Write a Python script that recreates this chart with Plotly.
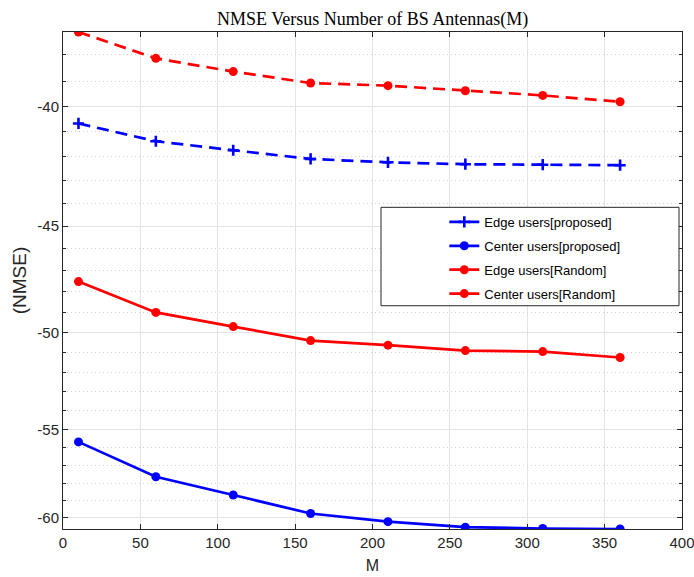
import math
import plotly.graph_objects as go

# ---- data ----
M_VALUES = [10, 60, 110, 160, 210, 260, 310, 360]
EDGE_PROPOSED = [-40.66, -41.38, -41.75, -42.11, -42.25, -42.33, -42.35, -42.37]
CENTER_PROPOSED = [-55.68, -57.63, -58.68, -59.76, -60.24, -60.57, -60.65, -60.68]
EDGE_RANDOM = [-37.15, -38.13, -38.63, -39.07, -39.17, -39.37, -39.55, -39.80]
CENTER_RANDOM = [-47.53, -49.00, -49.69, -50.38, -50.61, -50.88, -50.93, -51.23]
X_TICKS = [0, 50, 100, 150, 200, 250, 300, 350, 400]
Y_TICKS = [-40, -45, -50, -55, -60]

TITLE = "NMSE Versus Number of BS Antennas(M)"
X_LABEL = "M"
Y_LABEL = "(NMSE)"

AX = "#262626"
SANS = "Liberation Sans, Arial, sans-serif"


def mag(vals):
    # axis is logarithmic in |NMSE| with reversed direction
    return [-v for v in vals]


series = [
    ("Edge users[proposed]", EDGE_PROPOSED, "#0000ff", "12px,7px", "cross-thin"),
    ("Center users[proposed]", CENTER_PROPOSED, "#0000ff", "solid", "circle"),
    ("Edge users[Random]", EDGE_RANDOM, "#ff0000", "12px,7px", "circle"),
    ("Center users[Random]", CENTER_RANDOM, "#ff0000", "solid", "circle"),
]

fig = go.Figure()
for i, (name, vals, color, dash, sym) in enumerate(series):
    if sym == "cross-thin":
        marker = dict(symbol="cross-thin", size=8, color=color,
                      line=dict(color=color, width=2.6))
    else:
        marker = dict(symbol="circle", size=9, color=color,
                      line=dict(color=color, width=0))
    fig.add_trace(go.Scatter(
        x=M_VALUES, y=mag(vals), name=name, mode="lines+markers",
        line=dict(color=color, width=2.7, dash=dash),
        marker=marker, legendgroup="g%d" % i,
        customdata=vals, hovertemplate="M=%{x}<br>NMSE=%{customdata}<extra></extra>",
    ))

all_vals = EDGE_PROPOSED + CENTER_PROPOSED + EDGE_RANDOM + CENTER_RANDOM
ymin_mag = min(mag(all_vals))
ymax_mag = max(mag(all_vals))

minor_vals = list(range(math.ceil(ymin_mag), math.floor(ymax_mag) + 1))

fig.update_layout(
    width=694, height=577,
    margin=dict(l=63, r=12, t=32, b=48, autoexpand=False),
    paper_bgcolor="white", plot_bgcolor="white",
    title=dict(text=TITLE, x=0.537, xanchor="center", y=1 - 18.5 / 577,
               yanchor="middle", yref="container",
               font=dict(family="Liberation Serif, Times New Roman, serif",
                         size=18, color="black")),
    font=dict(family=SANS, color=AX),
    showlegend=True,
    legend=dict(x=0.616, xanchor="left", y=0.648, yanchor="top",
                bgcolor="rgba(0,0,0,0)", borderwidth=0,
                font=dict(family=SANS, size=13, color="black"),
                tracegroupgap=4),
    shapes=[dict(type="rect", xref="paper", yref="paper",
                 x0=(381 - 63) / 619, x1=(679 - 63) / 619,
                 y0=(529.5 - 306) / 497.5, y1=(529.5 - 207.5) / 497.5,
                 fillcolor="white", line=dict(color=AX, width=1), layer="above")],
)

fig.update_xaxes(
    range=[X_TICKS[0], X_TICKS[-1]], tickmode="array", tickvals=X_TICKS,
    ticks="inside", ticklen=5, tickcolor=AX, tickwidth=1,
    showline=True, linecolor=AX, linewidth=1, mirror="allticks",
    showgrid=True, gridcolor="#e3e3e3", gridwidth=1, zeroline=False,
    tickfont=dict(size=15, color=AX, family=SANS), automargin=False,
    ticklabeloverflow="allow",
    title=dict(text=X_LABEL, font=dict(size=16, color=AX, family=SANS), standoff=9),
)

fig.update_yaxes(
    type="log", range=[math.log10(ymax_mag), math.log10(ymin_mag)],
    tickmode="array", tickvals=mag(Y_TICKS), ticktext=[str(v) for v in Y_TICKS],
    ticks="inside", ticklen=5, tickcolor=AX, tickwidth=1,
    showline=True, linecolor=AX, linewidth=1, mirror="allticks",
    showgrid=True, gridcolor="#e3e3e3", gridwidth=1, zeroline=False,
    tickfont=dict(size=15, color=AX, family=SANS), automargin=False,
    ticklabeloverflow="allow",
    minor=dict(tickmode="array", tickvals=minor_vals, ticks="inside", ticklen=3,
               tickcolor=AX, showgrid=True, gridcolor="#cfcfcf",
               griddash="1px,3px", gridwidth=1),
    title=dict(text=Y_LABEL, font=dict(size=19, color=AX, family=SANS), standoff=5),
)

fig.write_html("out.html", config={"displayModeBar": False},
               post_script="document.body.style.margin='0';document.body.style.overflow='hidden';")
